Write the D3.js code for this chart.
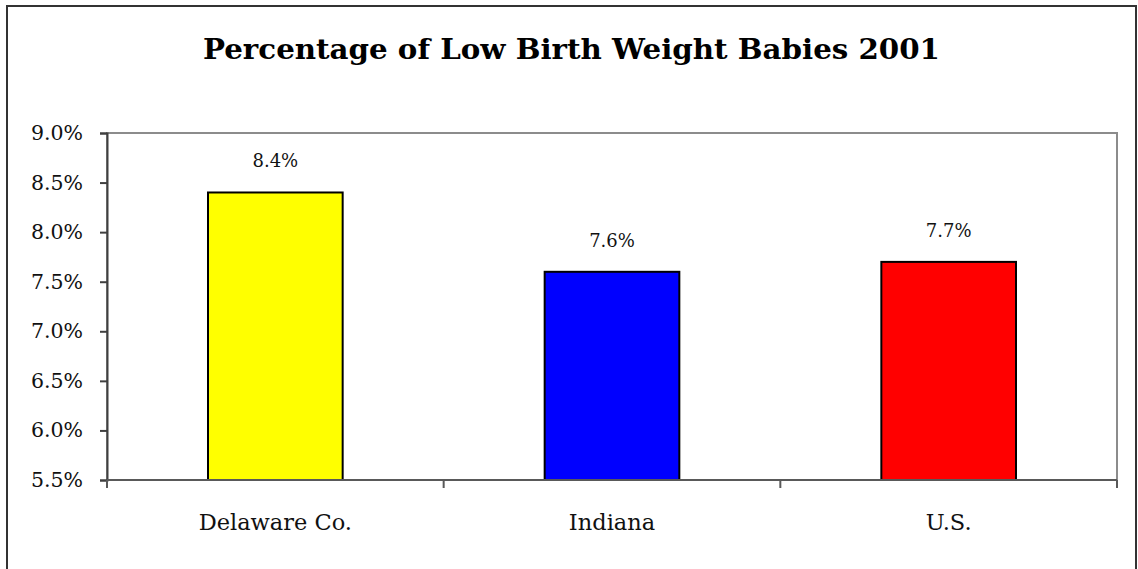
<!DOCTYPE html>
<html>
<head>
<meta charset="utf-8">
<script src="https://cdn.jsdelivr.net/npm/d3@7"></script>
<style>
  body { margin: 0; background: #fff; }
  svg { display: block; }
</style>
</head>
<body>
<svg id="chart"></svg>
<script>
const width = 1138, height = 569;

// chart data
const categories = ["Delaware Co.", "Indiana", "U.S."];
const values = [8.4, 7.6, 7.7];
const barColors = ["#ffff00", "#0000ff", "#ff0000"];
const yTicks = [5.5, 6.0, 6.5, 7.0, 7.5, 8.0, 8.5, 9.0];
const title = "Percentage of Low Birth Weight Babies 2001";

// plot area
let plot = {left: 107, right: 1117, top: 133, bottom: 480};

const svg = d3.select("#chart")
    .attr("width", width)
    .attr("height", height);

// outer frame (bottom edge falls off the picture)
svg.append("rect")
    .attr("x", 7).attr("y", 6)
    .attr("width", 1129).attr("height", 600)
    .style("fill", "#fff")
    .style("stroke", "#333")
    .style("stroke-width", 2);

svg.append("text")
    .attr("x", (203 + 940) / 2)
    .attr("y", 59)
    .attr("text-anchor", "middle")
    .attr("textLength", 737)
    .attr("lengthAdjust", "spacingAndGlyphs")
    .style("font-family", "'DejaVu Serif', serif")
    .style("font-weight", "bold")
    .style("font-size", "27px")
    .style("fill", "#000")
    .text(title);

const x = d3.scaleBand()
    .domain(categories)
    .range([plot.left, plot.right])
    .padding(0);

const y = d3.scaleLinear()
    .domain([5.5, 9.0])
    .range([plot.bottom, plot.top]);

// plot frame
svg.append("rect")
    .attr("x", plot.left).attr("y", plot.top)
    .attr("width", plot.right - plot.left)
    .attr("height", plot.bottom - plot.top)
    .style("fill", "#fff")
    .style("stroke", "#8c8c8c")
    .style("stroke-width", 2);

// bars
const barW = x.bandwidth() * 0.4;
svg.selectAll(".bar")
    .data(values)
    .join("rect")
    .attr("class", "bar")
    .attr("x", (d, i) => x(categories[i]) + (x.bandwidth() - barW) / 2)
    .attr("y", d => y(d))
    .attr("width", barW)
    .attr("height", d => y(5.5) - y(d))
    .style("fill", (d, i) => barColors[i])
    .style("stroke", "#000")
    .style("stroke-width", 2);

// value labels
svg.selectAll(".val")
    .data(values)
    .join("text")
    .attr("class", "val")
    .attr("x", (d, i) => x(categories[i]) + x.bandwidth() / 2)
    .attr("y", d => y(d) - 25)
    .attr("text-anchor", "middle")
    .style("font-family", "'DejaVu Serif', serif")
    .style("font-size", "18px")
    .style("fill", "#111")
    .text(d => d.toFixed(1) + "%");

// y axis
const yAxis = d3.axisLeft(y)
    .tickValues(yTicks)
    .tickSize(7)
    .tickPadding(17)
    .tickFormat(d => d.toFixed(1) + "%");

const gy = svg.append("g")
    .attr("transform", `translate(${plot.left},0)`)
    .call(yAxis);
gy.select(".domain").style("stroke", "#404040").style("stroke-width", 2);
gy.selectAll(".tick line").style("stroke", "#404040").style("stroke-width", 2);
gy.selectAll(".tick text")
    .style("font-family", "'DejaVu Serif', serif")
    .style("font-size", "20.5px")
    .style("fill", "#111");

// x axis: ticks at band edges
const gx = svg.append("g")
    .attr("transform", `translate(0,${plot.bottom})`);
gx.append("line")
    .attr("x1", plot.left).attr("x2", plot.right)
    .style("stroke", "#595959").style("stroke-width", 2);
gx.selectAll(".xt")
    .data(categories.slice(0).concat(["end"]))
    .join("line")
    .attr("class", "xt")
    .attr("x1", (d, i) => i < categories.length ? x(d) : plot.right)
    .attr("x2", (d, i) => i < categories.length ? x(d) : plot.right)
    .attr("y1", 0).attr("y2", 8)
    .style("stroke", "#595959").style("stroke-width", 2);
gx.selectAll(".cat")
    .data(categories)
    .join("text")
    .attr("class", "cat")
    .attr("x", d => x(d) + x.bandwidth() / 2)
    .attr("y", 50)
    .attr("text-anchor", "middle")
    .style("font-family", "'DejaVu Serif', serif")
    .style("font-size", "22.5px")
    .style("fill", "#111")
    .text(d => d);
</script>
</body>
</html>
